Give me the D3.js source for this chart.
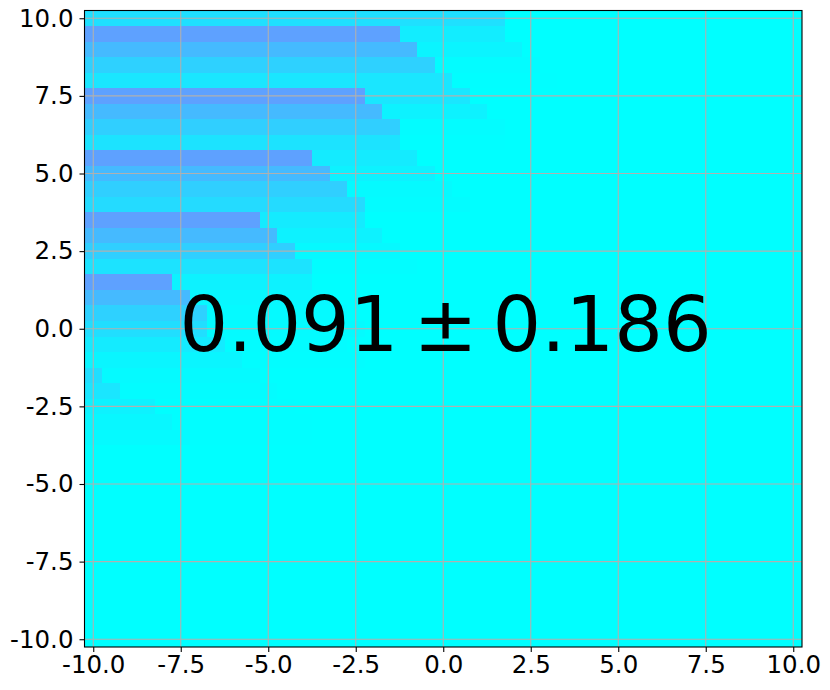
<!DOCTYPE html>
<html><head><meta charset="utf-8">
<script src="https://cdnjs.cloudflare.com/ajax/libs/d3/7.8.5/d3.min.js"></script>
<style>html,body{margin:0;padding:0;background:#fff}svg{display:block}text{font-family:"DejaVu Sans";fill:#000}</style>
</head><body><svg id="c" width="830" height="690"></svg>
<script>
const xTicks=[-10,-7.5,-5,-2.5,0,2.5,5,7.5,10];
const yTicks=[-10,-7.5,-5,-2.5,0,2.5,5,7.5,10];
const tickLabels=["-10.0","-7.5","-5.0","-2.5","0.0","2.5","5.0","7.5","10.0"];
const annotation=["0.091","±","0.186"];
const gridCenters=d3.range(0,41).map(i=>-10+i*0.5);
// rows, top to bottom (y = 10.0, 9.5, ...): first band end column/value, second band
const endA=[24,18,19,20,21,16,17,18,18,13,14,15,16,10,11,12,13,5,6,7,7,8,9,1,2,4,5,6];
const valA=[.12,.37,.27,.18,.10,.37,.27,.19,.11,.37,.27,.19,.14,.37,.27,.19,.11,.37,.27,.18,.13,.08,.04,.13,.10,.05,.03,.02];
const endB=[24,24,25,26,27,22,23,24,24,19,20,21,22,16,17,18,19,13,14,15,16,15,16,10,11,12,13,13];
const valB=[0,.07,.045,.012,.004,.10,.05,.012,.005,.08,.05,.02,.01,.08,.05,.025,.006,.05,.03,.02,.015,.012,.008,.02,.01,.005,.005,.004];
const xS=d3.scaleLinear().domain([-10.25,10.25]).range([84.5,802]);
const yS=d3.scaleLinear().domain([10.25,-10.25]).range([10.5,647]);
const col=d3.scaleLinear().domain([0,1]).range(["#00ffff","#ff00ff"]);
const svg=d3.select("#c");
const cells=[];
gridCenters.slice().reverse().forEach((yv,r)=>{
  gridCenters.forEach((xv,c)=>{
    let v=0;
    if(r<endA.length){ v = c<endA[r]?valA[r]:(c<endB[r]?valB[r]:0); }
    cells.push({xv,yv,v});
  });
});
svg.append("g").selectAll("rect").data(cells).join("rect")
 .attr("x",d=>xS(d.xv-.25)).attr("y",d=>yS(d.yv+.25))
 .attr("width",xS(.25)-xS(-.25)).attr("height",yS(-.25)-yS(.25))
 .attr("fill",d=>col(d.v)).attr("shape-rendering","crispEdges");
const grid=svg.append("g").attr("stroke","#b0b0b0").attr("stroke-width",1.1);
xTicks.forEach(t=>grid.append("line").attr("x1",xS(t)).attr("x2",xS(t)).attr("y1",10.5).attr("y2",647));
yTicks.forEach(t=>grid.append("line").attr("y1",yS(t)).attr("y2",yS(t)).attr("x1",84.5).attr("x2",802));
const fmt=t=>tickLabels[xTicks.indexOf(t)];
const ax=svg.append("g").attr("transform","translate(0,647)").call(d3.axisBottom(xS).tickValues(xTicks).tickFormat(fmt).tickSize(5).tickPadding(4));
const ay=svg.append("g").attr("transform","translate(84.5,0)").call(d3.axisLeft(yS).tickValues(yTicks).tickFormat(fmt).tickSize(5).tickPadding(6));
[ax,ay].forEach(a=>{a.select(".domain").remove();a.selectAll("line").attr("stroke","#000").attr("stroke-width",1.1);
  a.selectAll("text").style("font-family","DejaVu Sans").style("font-size","24.5px").attr("fill","#000");});
svg.append("rect").attr("x",84.5).attr("y",10.5).attr("width",717.5).attr("height",636.5).attr("fill","none").attr("stroke","#000").attr("stroke-width",1.1);
const t=svg.append("text").attr("x",445.5).attr("y",350.5).attr("text-anchor","middle").style("font-size","76.5px");
t.append("tspan").text(annotation[0]);
t.append("tspan").attr("dx",15).text(annotation[1]);
t.append("tspan").attr("dx",15).text(annotation[2]);
</script></body></html>
